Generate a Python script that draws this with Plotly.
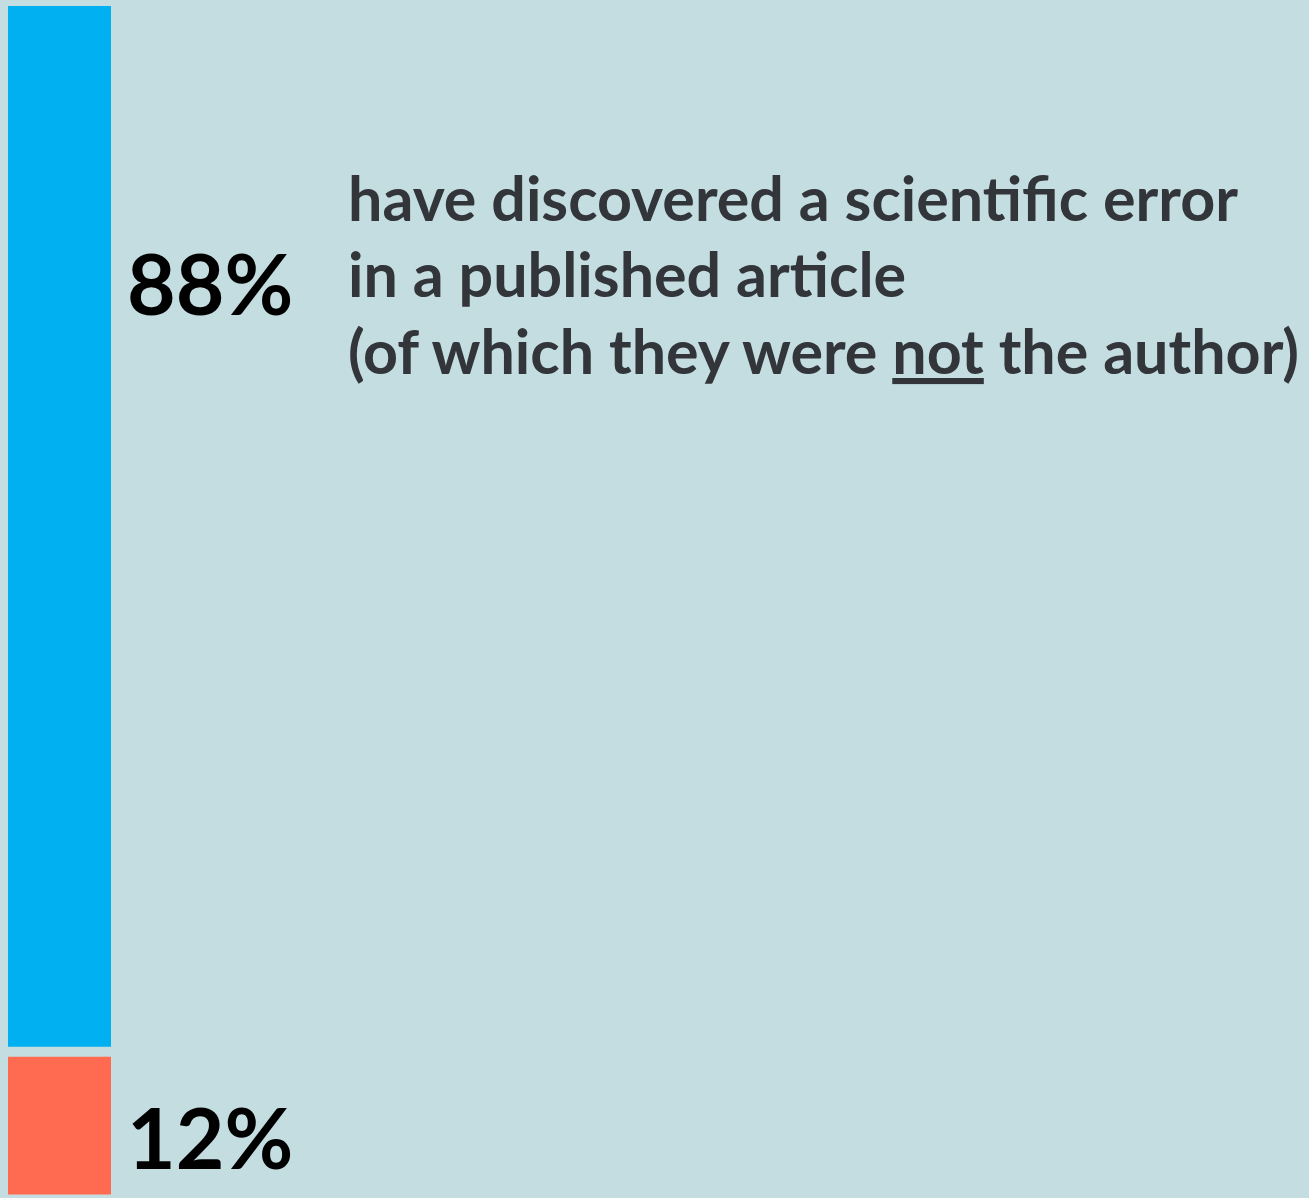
import plotly.graph_objects as go

# Survey share, top segment first
shares = [88, 12]
share_labels = ["88%", "12%"]
bar_colors = ["#00B0F0", "#FF6B50"]
description = [
    "have discovered a scientific error",
    "in a published article",
    "(of which they were <u>not</u> the author)",
]

BG = "#C4DDE1"
TEXT = "#323539"
W, H = 1309, 1198

fig = go.Figure()

# Stacked from the bottom: red then blue on top of it
base = 0
for value, color in zip(reversed(shares), reversed(bar_colors)):
    fig.add_trace(go.Bar(
        x=[0],
        y=[value],
        base=[base],
        width=1,
        marker={"color": color, "line": {"width": 0}},
        showlegend=False,
        hoverinfo="skip",
    ))
    base += value

# Small gap between the two segments
fig.add_shape(
    type="line",
    xref="x", yref="y",
    x0=-0.5, x1=0.5, y0=shares[1], y1=shares[1],
    line={"color": BG, "width": 10},
)

fig.add_annotation(
    text=f"<b>{share_labels[0]}</b>",
    xref="paper", yref="paper",
    x=125 / W, y=1 - 283 / H,
    xanchor="left", yanchor="middle",
    showarrow=False,
    font={"family": "Lato", "size": 84, "color": "#000000"},
)
fig.add_annotation(
    text=f"<b>{share_labels[1]}</b>",
    xref="paper", yref="paper",
    x=125 / W, y=1 - 1136 / H,
    xanchor="left", yanchor="middle",
    showarrow=False,
    font={"family": "Lato", "size": 84, "color": "#000000"},
)

for i, line in enumerate(description):
    fig.add_annotation(
        text=f"<b>{line}</b>",
        xref="paper", yref="paper",
        x=346 / W, y=1 - (197 + 77 * i) / H,
        xanchor="left", yanchor="middle",
        showarrow=False,
        font={"family": "Lato", "size": 61, "color": TEXT},
    )

px_per_x = 103
fig.update_layout(
    width=W,
    height=H,
    margin=dict(l=0, r=0, t=0, b=0),
    paper_bgcolor=BG,
    plot_bgcolor=BG,
    barmode="overlay",
    xaxis={
        "range": [-0.5 - 8 / px_per_x, -0.5 + (W - 8) / px_per_x],
        "visible": False,
        "fixedrange": True,
    },
    yaxis={
        "range": [-0.3, 100.5],
        "visible": False,
        "fixedrange": True,
    },
)

fig.write_html(
    "out.html",
    config={"displayModeBar": False},
    post_script="document.body.style.margin = '0';",
)
